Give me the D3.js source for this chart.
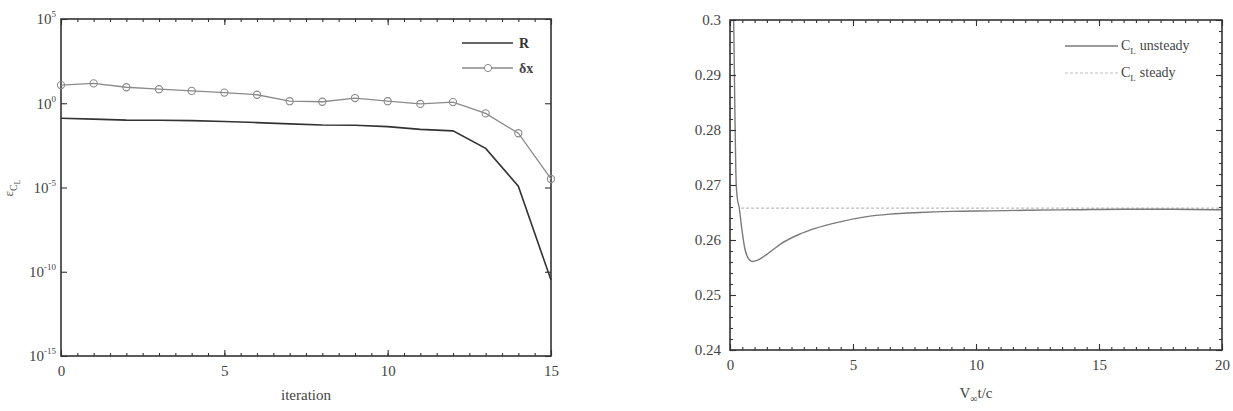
<!DOCTYPE html>
<html>
<head>
<meta charset="utf-8">
<script src="https://cdn.jsdelivr.net/npm/d3@7"></script>
<style>
  body { margin: 0; background: #fff; }
  .tick line { stroke: #333; stroke-width: 1.1; }
</style>
</head>
<body>
<script>
// left panel: convergence history
const iterations = d3.range(0, 16);
const residual = [0.13, 0.115, 0.10, 0.097, 0.093, 0.083, 0.071, 0.060, 0.051, 0.049, 0.041, 0.028, 0.023, 0.0021, 1.2e-5, 3.2e-11];
const deltaX = [12, 15.1, 8.9, 6.8, 5.4, 4.3, 3.2, 1.32, 1.23, 2.04, 1.32, 0.91, 1.17, 0.25, 0.0166, 3.2e-5];
const leftYTicks = [5, 0, -5, -10, -15];   // exponents
const leftXTicks = [0, 5, 10, 15];

// right panel: lift coefficient history
const timeU = [0.02, 0.15, 0.2, 0.25, 0.3, 0.37, 0.47, 0.6, 0.75, 0.9, 1.1, 1.5, 2.1, 2.8, 3.46, 4.47, 5.49, 6.5, 7.7, 9, 10.6, 12, 14, 16, 18, 20];
const clUnsteady = [0.33, 0.30, 0.283, 0.2704, 0.2675, 0.266, 0.2624, 0.2585, 0.2566, 0.2561, 0.2563, 0.2574, 0.2594, 0.2610, 0.2621, 0.2633, 0.2642, 0.2647, 0.2650, 0.2652, 0.2653, 0.2654, 0.2655, 0.2656, 0.2656, 0.2655];
const timeS = [0.45, 20];
const clSteady = [0.2658, 0.2658];
const rightYTicks = [0.24, 0.25, 0.26, 0.27, 0.28, 0.29, 0.3];
const rightXTicks = [0, 5, 10, 15, 20];

const SERIF = '"Liberation Serif", "DejaVu Serif", serif';

const svg = d3.select('body').append('svg')
  .attr('width', 1233)
  .attr('height', 411)
  .style('font-family', SERIF);

const L = {left: 61, right: 551, top: 19, bottom: 356};
const R = {left: 730, right: 1222, top: 20, bottom: 350};

// ticks on all four sides of a box, pointing inward; labels only bottom/left
function frame(g, box, x, y, xMajor, xMinor, yMajor, yMinor) {
  const sides = [
    [() => d3.axisBottom(x), `translate(0,${box.bottom})`, xMajor, xMinor, 'bx'],
    [() => d3.axisTop(x), `translate(0,${box.top})`, xMajor, xMinor, ''],
    [() => d3.axisLeft(y), `translate(${box.left},0)`, yMajor, yMinor, 'ly'],
    [() => d3.axisRight(y), `translate(${box.right},0)`, yMajor, yMinor, ''],
  ];
  sides.forEach(([mk, tr, major, minor, cls]) => {
    if (minor) {
      g.append('g').attr('transform', tr)
        .call(mk().tickValues(minor).tickSize(-3).tickFormat(''))
        .call(s => s.select('.domain').remove());
    }
    g.append('g').attr('transform', tr).attr('class', cls)
      .call(mk().tickValues(major).tickSize(-6).tickPadding(9).tickFormat(cls ? null : () => ''))
      .call(s => s.select('.domain').remove())
      .attr('font-family', SERIF)
      .attr('font-size', 15);
  });
  g.selectAll('.tick text').attr('fill', '#444');
  g.append('rect')
    .attr('x', box.left).attr('y', box.top)
    .attr('width', box.right - box.left).attr('height', box.bottom - box.top)
    .attr('fill', 'none').attr('stroke', '#333').attr('stroke-width', 1.6);
}

// ---------- left panel ----------
const xL = d3.scaleLinear().domain([0, 15]).range([L.left, L.right]);
const yL = d3.scaleLog().domain([1e-15, 1e5]).range([L.bottom, L.top]);

const gL = svg.append('g');
frame(gL, L, xL, yL,
  leftXTicks, d3.range(0, 15.01, 0.5),
  leftYTicks.map(e => Math.pow(10, e)), null);

// log labels: 10 with superscript exponent
gL.selectAll('.ly text')
  .each(function(d) {
    const t = d3.select(this).text('');
    t.append('tspan').text('10');
    t.append('tspan').attr('dy', -7).attr('font-size', 9).text(Math.round(Math.log10(d)));
  })
  .attr('dx', 4);

const lineL = (ys) => d3.line().x((d, i) => xL(iterations[i])).y(d => yL(d))(ys);

gL.append('path').attr('d', lineL(deltaX))
  .attr('fill', 'none').attr('stroke', '#8a8a8a').attr('stroke-width', 1.3);
gL.selectAll('.dx').data(deltaX).enter().append('circle')
  .attr('cx', (d, i) => xL(iterations[i])).attr('cy', d => yL(d))
  .attr('r', 3.6).attr('fill', 'none').attr('stroke', '#8a8a8a').attr('stroke-width', 1.1);
gL.append('path').attr('d', lineL(residual))
  .attr('fill', 'none').attr('stroke', '#333').attr('stroke-width', 1.6);

// legend
const lg = gL.append('g');
lg.append('line').attr('x1', 462).attr('x2', 513).attr('y1', 43).attr('y2', 43)
  .attr('stroke', '#333').attr('stroke-width', 1.6);
lg.append('text').attr('x', 519).attr('y', 48).attr('font-size', 14).attr('font-weight', 'bold').attr('fill', '#333').text('R');
lg.append('line').attr('x1', 462).attr('x2', 513).attr('y1', 68).attr('y2', 68)
  .attr('stroke', '#8a8a8a').attr('stroke-width', 1.3);
lg.append('circle').attr('cx', 488).attr('cy', 68).attr('r', 3.6)
  .attr('fill', '#fff').attr('stroke', '#8a8a8a');
lg.append('text').attr('x', 519).attr('y', 73).attr('font-size', 14).attr('font-weight', 'bold').attr('fill', '#444').text('δx');

gL.append('text').attr('x', (L.left + L.right) / 2).attr('y', 400)
  .attr('text-anchor', 'middle').attr('font-size', 15).attr('fill', '#444').text('iteration');

const yl = gL.append('text').attr('transform', 'translate(13,188) rotate(-90)')
  .attr('text-anchor', 'middle').attr('font-size', 13).attr('fill', '#555');
yl.append('tspan').text('ε');
yl.append('tspan').attr('dy', 4).attr('font-size', 10).text('C');
yl.append('tspan').attr('dy', 3).attr('font-size', 8).text('L');

// ---------- right panel ----------
const xR = d3.scaleLinear().domain([0, 20]).range([R.left, R.right]);
const yR = d3.scaleLinear().domain([0.24, 0.3]).range([R.bottom, R.top]);

const gR = svg.append('g');
gR.append('clipPath').attr('id', 'clipR').append('rect')
  .attr('x', R.left).attr('y', R.top).attr('width', R.right - R.left).attr('height', R.bottom - R.top);

gR.append('path')
  .datum(timeS.map((t, i) => [t, clSteady[i]]))
  .attr('d', d3.line().x(d => xR(d[0])).y(d => yR(d[1])))
  .attr('fill', 'none').attr('stroke', '#bdbdbd').attr('stroke-width', 1.2)
  .attr('stroke-dasharray', '3,2');

gR.append('path')
  .datum(timeU.map((t, i) => [t, clUnsteady[i]]))
  .attr('clip-path', 'url(#clipR)')
  .attr('d', d3.line().curve(d3.curveMonotoneX).x(d => xR(d[0])).y(d => yR(d[1])))
  .attr('fill', 'none').attr('stroke', '#7a7a7a').attr('stroke-width', 1.4);

frame(gR, R, xR, yR,
  rightXTicks, d3.range(0, 20.01, 0.5),
  rightYTicks, d3.range(0.24, 0.3001, 0.002));
gR.selectAll('.ly text')
  .text(d => d === 0.3 ? '0.3' : d3.format('.2f')(d));

// legend
const rg = gR.append('g');
rg.append('line').attr('x1', 1065).attr('x2', 1118).attr('y1', 46).attr('y2', 46)
  .attr('stroke', '#7a7a7a').attr('stroke-width', 1.3);
const t1 = rg.append('text').attr('x', 1121).attr('y', 50).attr('font-size', 14).attr('fill', '#444');
t1.append('tspan').text('C');
t1.append('tspan').attr('dy', 4).attr('font-size', 9).text('L');
t1.append('tspan').attr('dy', -4).attr('dx', 4).text('unsteady');
rg.append('line').attr('x1', 1065).attr('x2', 1118).attr('y1', 73).attr('y2', 73)
  .attr('stroke', '#bdbdbd').attr('stroke-width', 1.2).attr('stroke-dasharray', '3,2');
const t2 = rg.append('text').attr('x', 1121).attr('y', 77).attr('font-size', 14).attr('fill', '#444');
t2.append('tspan').text('C');
t2.append('tspan').attr('dy', 4).attr('font-size', 9).text('L');
t2.append('tspan').attr('dy', -4).attr('dx', 4).text('steady');

const xl = gR.append('text').attr('x', (R.left + R.right) / 2).attr('y', 398)
  .attr('text-anchor', 'middle').attr('font-size', 15).attr('fill', '#444');
xl.append('tspan').text('V');
xl.append('tspan').attr('dy', 4).attr('font-size', 10).text('∞');
xl.append('tspan').attr('dy', -4).text('t/c');
</script>
</body>
</html>
